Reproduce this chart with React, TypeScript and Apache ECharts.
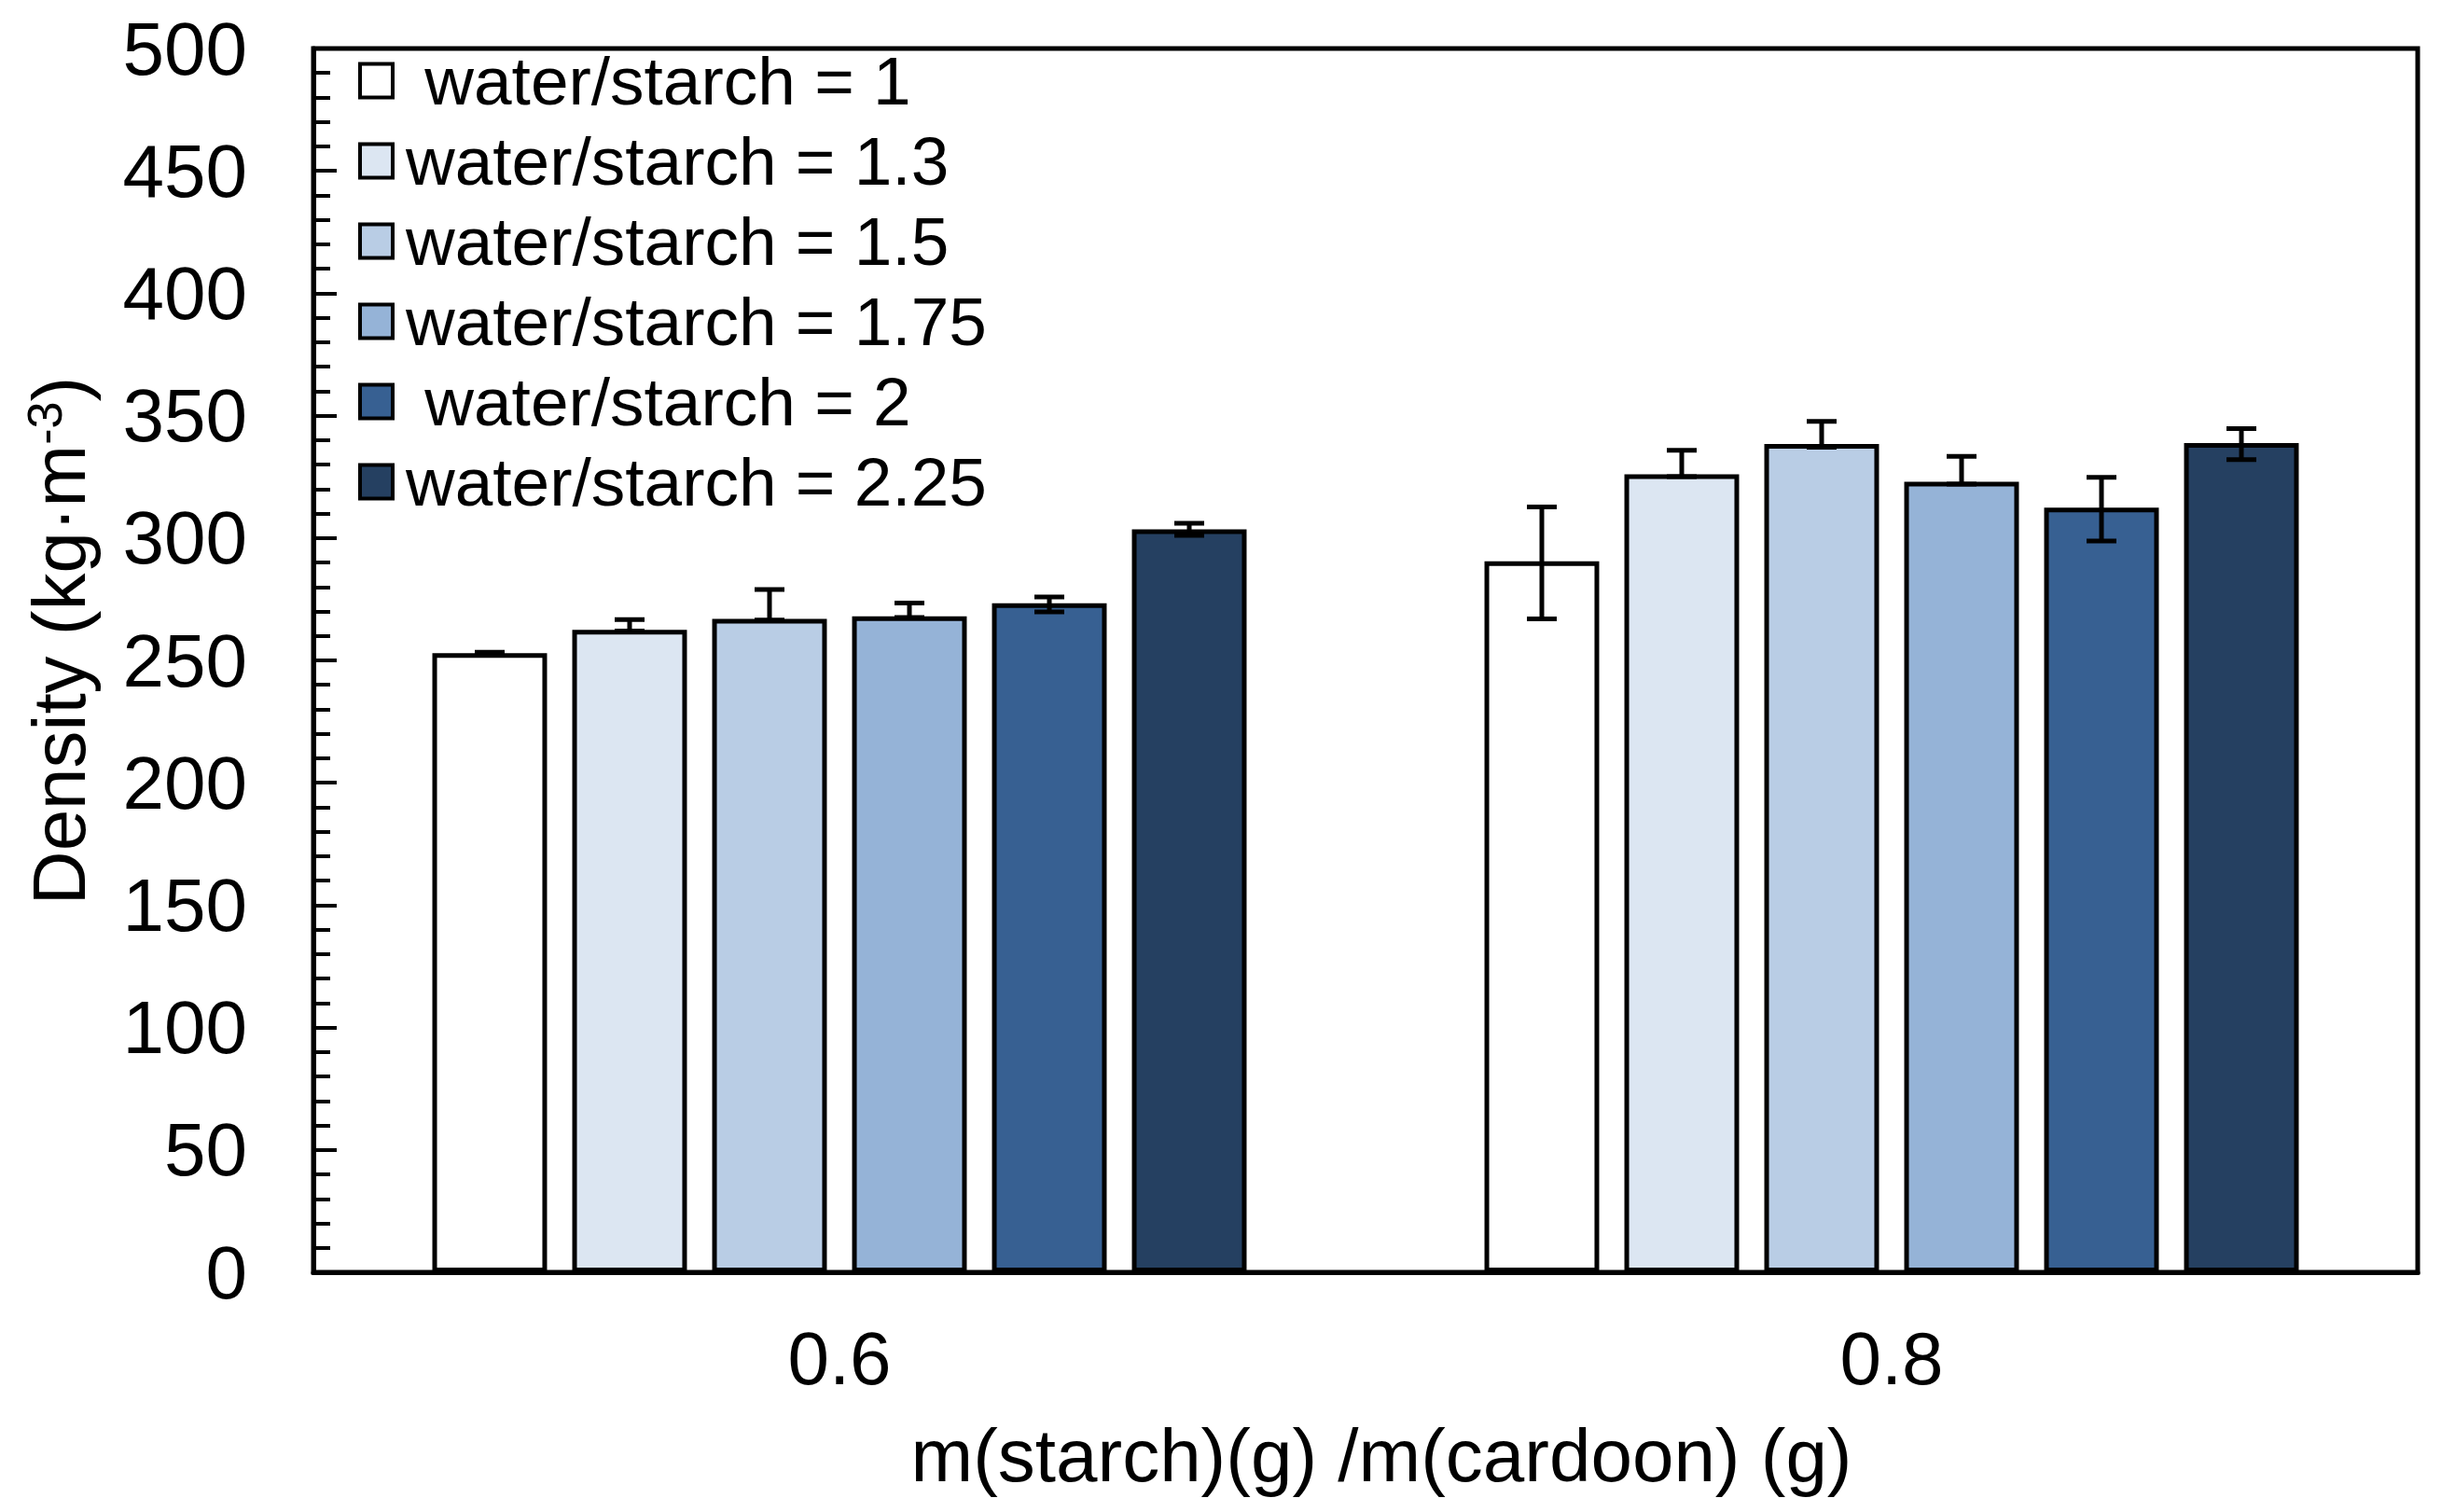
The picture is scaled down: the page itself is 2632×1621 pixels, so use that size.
import React, { useEffect, useRef } from "react";
import * as echarts from "echarts";

const categories = ["0.6", "0.8"];
const seriesNames = [
  "water/starch = 1",
  "water/starch = 1.3",
  "water/starch = 1.5",
  "water/starch = 1.75",
  "water/starch = 2",
  "water/starch = 2.25",
];
const seriesColors = ["#ffffff", "#dce6f2", "#b9cde5", "#95b3d7", "#376092", "#254061"];

const density1 = [253, 290.5];
const density13 = [262.5, 326];
const density15 = [267, 338.4];
const density175 = [268, 323];
const density2 = [273.3, 312.4];
const density225 = [303.5, 338.8];

const errUp1 = [0.3, 22.2];
const errUp13 = [4.2, 9.8];
const errUp15 = [12, 9.3];
const errUp175 = [5.4, 10.4];
const errUp2 = [2.6, 12.4];
const errUp225 = [2.5, 5.9];

const errDown1 = [0.3, 23.5];
const errDown13 = [0.5, 0.9];
const errDown15 = [0.5, 1.3];
const errDown175 = [0.5, 1.0];
const errDown2 = [3.5, 13.6];
const errDown225 = [2.4, 6.8];

const yTicks = { min: 0, max: 500, interval: 50 };

const allValues = [density1, density13, density15, density175, density2, density225];
const allUp = [errUp1, errUp13, errUp15, errUp175, errUp2, errUp225];
const allDown = [errDown1, errDown13, errDown15, errDown175, errDown2, errDown225];

const BAR_FRAC = 0.109;
const GAP_FRAC = 0.22;
const FONT = "'Liberation Sans', Arial, Helvetica, sans-serif";

export default function App() {
  const ref = useRef<HTMLDivElement>(null);
  useEffect(() => {
    document.body.style.margin = "0";
    const chart = echarts.init(ref.current!, null, { renderer: "svg" });
    const n = seriesNames.length;
    const barSeries = seriesNames.map((name, i) => ({
      name,
      type: "bar",
      data: allValues[i],
      barWidth: BAR_FRAC * 100 + "%",
      barGap: GAP_FRAC * 100 + "%",
      itemStyle: { color: seriesColors[i], borderColor: "#000", borderWidth: 5 },
      z: 2,
    }));
    const errData: number[][] = [];
    for (let s = 0; s < n; s++) {
      for (let c = 0; c < categories.length; c++) {
        errData.push([c, s, allValues[s][c], allDown[s][c], allUp[s][c]]);
      }
    }
    const errSeries = {
      name: "error",
      type: "custom",
      z: 5,
      data: errData,
      encode: { x: 0, y: 2 },
      renderItem: (params: any, api: any) => {
        const cat = api.value(0);
        const si = api.value(1);
        const v = api.value(2);
        const lo = api.value(3);
        const hi = api.value(4);
        const band = api.size([1, 0])[0];
        const bw = band * BAR_FRAC;
        const step = bw * (1 + GAP_FRAC);
        const c = api.coord([cat, v]);
        const x = c[0] + (si - (n - 1) / 2) * step;
        const yT = api.coord([cat, v + hi])[1];
        const yB = api.coord([cat, v - lo])[1];
        const hw = 16;
        const st = { stroke: "#000", lineWidth: 5 };
        return {
          type: "group",
          children: [
            { type: "line", shape: { x1: x, y1: yT, x2: x, y2: yB }, style: st },
            { type: "line", shape: { x1: x - hw, y1: yT, x2: x + hw, y2: yT }, style: st },
            { type: "line", shape: { x1: x - hw, y1: yB, x2: x + hw, y2: yB }, style: st },
          ],
        };
      },
    };
    chart.setOption({
      animation: false,
      backgroundColor: "#ffffff",
      textStyle: { fontFamily: FONT },
      grid: {
        left: 336,
        top: 52,
        right: 40,
        bottom: 257,
        show: true,
        borderColor: "#000",
        borderWidth: 5,
        containLabel: false,
      },
      legend: {
        data: seriesNames,
        orient: "vertical",
        left: 384,
        top: 50,
        padding: 0,
        itemWidth: 35,
        itemHeight: 36,
        itemGap: 13,
        icon: "rect",
        selectedMode: false,
        itemStyle: { borderColor: "#000", borderWidth: 4 },
        formatter: (name: string) =>
          name === seriesNames[0] || name === seriesNames[4] ? " " + name : name,
        textStyle: { fontSize: 73, color: "#000", fontFamily: FONT, padding: [0, 0, 0, 9] },
      },
      xAxis: {
        type: "category",
        data: categories,
        axisLine: { lineStyle: { color: "#000", width: 5 } },
        axisTick: { show: false },
        axisLabel: { fontSize: 80, color: "#000", margin: 52, fontFamily: FONT },
        name: "m(starch)(g) /m(cardoon) (g)",
        nameLocation: "middle",
        nameGap: 156,
        nameTextStyle: { fontSize: 80, color: "#000", fontFamily: FONT, padding: [0, 0, 0, 34] },
      },
      yAxis: {
        type: "value",
        min: yTicks.min,
        max: yTicks.max,
        interval: yTicks.interval,
        axisLine: { show: true, lineStyle: { color: "#000", width: 5 } },
        axisTick: { show: true, inside: true, length: 25, lineStyle: { color: "#000", width: 4 } },
        minorTick: { show: true, splitNumber: 5, length: 18, lineStyle: { color: "#000", width: 4 } },
        splitLine: { show: false },
        axisLabel: { fontSize: 80, color: "#000", margin: 71, fontFamily: FONT },
        name: "{a|Density (kg·m}{b|-3}{a|)}",
        nameLocation: "middle",
        nameRotate: 90,
        nameGap: 232,
        nameTextStyle: {
          color: "#000",
          fontFamily: FONT,
          padding: [0, 0, 0, 42],
          rich: {
            a: { fontSize: 80, lineHeight: 82, color: "#000", fontFamily: FONT },
            b: { fontSize: 52, lineHeight: 52, color: "#000", fontFamily: FONT, verticalAlign: "top" },
          },
        },
      },
      series: [...barSeries, errSeries],
    });
    return () => chart.dispose();
  }, []);
  return <div ref={ref} style={{ width: 2632, height: 1621 }} />;
}
